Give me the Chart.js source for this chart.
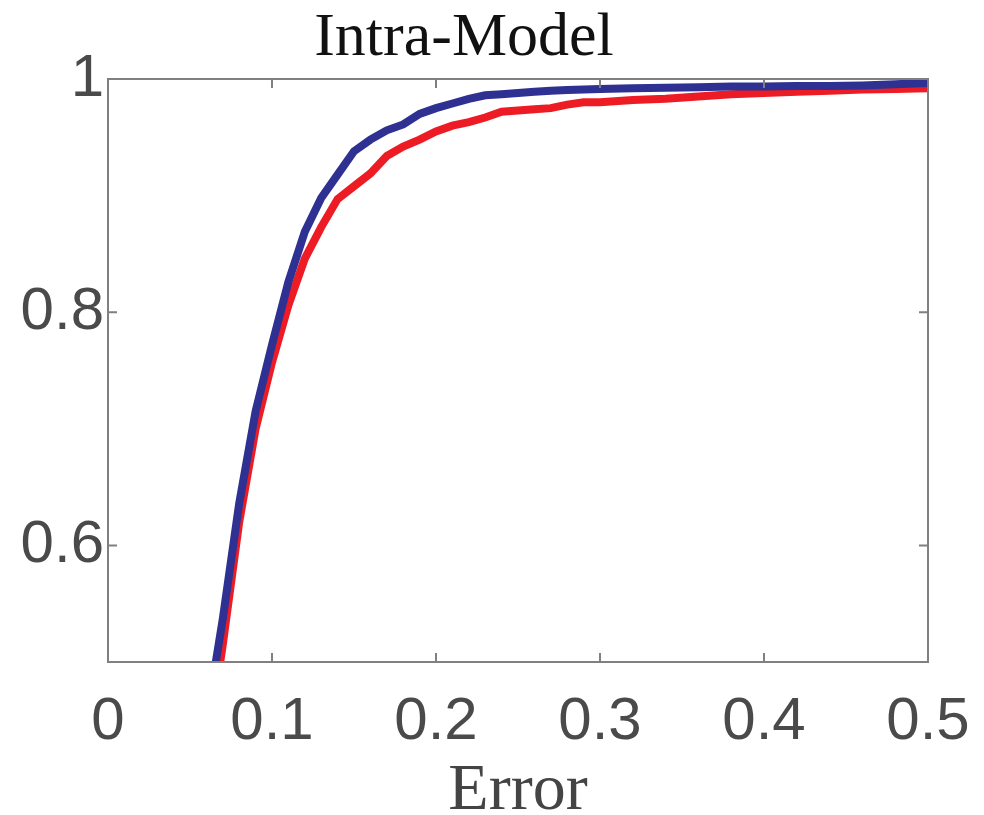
<!DOCTYPE html>
<html>
<head>
<meta charset="utf-8">
<title>Intra-Model</title>
<script src="https://cdn.jsdelivr.net/npm/chart.js@4/dist/chart.umd.min.js"></script>
<style>
    body { margin: 0; background: #fff; }
    #wrap { width: 984px; height: 815px; }
</style>
</head>
<body>
<div id="wrap"><canvas id="curve" width="984" height="815"></canvas></div>
<script>
// error thresholds (x) and cumulative fraction for each method
const errors = [0.06, 0.07, 0.08, 0.09, 0.10, 0.11, 0.12, 0.13, 0.14, 0.15,
    0.16, 0.17, 0.18, 0.19, 0.20, 0.21, 0.22, 0.23, 0.24, 0.25,
    0.26, 0.27, 0.28, 0.29, 0.30, 0.32, 0.34, 0.36, 0.38, 0.40,
    0.42, 0.44, 0.46, 0.48, 0.50];
const blueVals = [0.45, 0.537, 0.636, 0.715, 0.772, 0.826, 0.869, 0.898, 0.918, 0.938,
    0.948, 0.956, 0.961, 0.970, 0.975, 0.979, 0.983, 0.986, 0.987, 0.988,
    0.989, 0.990, 0.9905, 0.991, 0.9915, 0.992, 0.9925, 0.993, 0.9935, 0.9935,
    0.994, 0.994, 0.9945, 0.9955, 0.9966];
const redVals = [0.42, 0.515, 0.62, 0.70, 0.757, 0.806, 0.846, 0.873, 0.897, 0.908,
    0.919, 0.934, 0.942, 0.948, 0.955, 0.960, 0.963, 0.967, 0.972, 0.973,
    0.974, 0.975, 0.978, 0.980, 0.980, 0.982, 0.983, 0.985, 0.987, 0.988,
    0.989, 0.990, 0.991, 0.9915, 0.992];
const xTicks = [0, 0.1, 0.2, 0.3, 0.4, 0.5];
const yTicks = [0.6, 0.8, 1];

function toPoints(vals) {
    return errors.map((e, i) => ({ x: e, y: vals[i] }));
}

// box round the plot with inward tick marks on all four sides
const frame = {
    id: "frame",
    afterDatasetsDraw(chart) {
        const { ctx, chartArea: a, scales } = chart;
        const len = 9;
        ctx.save();
        ctx.strokeStyle = "#808080";
        ctx.lineWidth = 2;
        ctx.strokeRect(a.left, a.top, a.right - a.left, a.bottom - a.top);
        ctx.beginPath();
        xTicks.slice(1, -1).forEach(v => {
            const px = scales.x.getPixelForValue(v);
            ctx.moveTo(px, a.bottom); ctx.lineTo(px, a.bottom - len);
            ctx.moveTo(px, a.top); ctx.lineTo(px, a.top + len);
        });
        yTicks.filter(v => v < 1).forEach(v => {
            const py = scales.y.getPixelForValue(v);
            ctx.moveTo(a.left, py); ctx.lineTo(a.left + len, py);
            ctx.moveTo(a.right, py); ctx.lineTo(a.right - len, py);
        });
        ctx.stroke();
        ctx.restore();
    }
};

const tickFont = { family: "'Liberation Sans', Arial, sans-serif", size: 60, lineHeight: 1 };

new Chart("curve", {
    type: "line",
    data: {
        datasets: [{
            data: toPoints(blueVals),
            borderColor: "#2e3192",
            borderWidth: 8,
            pointRadius: 0,
            tension: 0,
            clip: 0
        }, {
            data: toPoints(redVals),
            borderColor: "#ed1c24",
            borderWidth: 8,
            pointRadius: 0,
            tension: 0,
            clip: 0
        }]
    },
    options: {
        responsive: false,
        animation: false,
        layout: { padding: { left: 0, right: 56, top: 0, bottom: 0 } },
        plugins: {
            legend: { display: false },
            tooltip: { enabled: false },
            title: {
                display: true,
                text: "Intra-Model",
                color: "#111",
                font: { family: "'Liberation Serif', 'Times New Roman', serif", size: 62, weight: "normal", lineHeight: 1 },
                padding: { top: 8, bottom: 9 }
            }
        },
        scales: {
            x: {
                type: "linear",
                min: 0,
                max: 0.5,
                grid: { display: false, drawTicks: false },
                border: { display: false },
                afterBuildTicks: s => { s.ticks = xTicks.map(v => ({ value: v })); },
                afterFit: s => { s.height = 153; s.paddingLeft = 0; s.paddingRight = 0; },
                ticks: {
                    color: "#4a4a4a",
                    font: tickFont,
                    padding: 30,
                    maxRotation: 0,
                    autoSkip: false,
                    callback: v => String(v)
                },
                title: {
                    display: true,
                    text: "Error",
                    color: "#444",
                    font: { family: "'Liberation Serif', 'Times New Roman', serif", size: 66, lineHeight: 0.7 },
                    padding: { top: 0, bottom: 0 }
                }
            },
            y: {
                min: 0.5,
                max: 1,
                grid: { display: false, drawTicks: false },
                border: { display: false },
                afterBuildTicks: s => { s.ticks = yTicks.map(v => ({ value: v })); },
                afterFit: s => { s.width = 108; s.paddingTop = 0; s.paddingBottom = 0; },
                ticks: {
                    color: "#4a4a4a",
                    font: tickFont,
                    padding: 4,
                    callback: v => String(v)
                }
            }
        }
    },
    plugins: [frame]
});
</script>
</body>
</html>
